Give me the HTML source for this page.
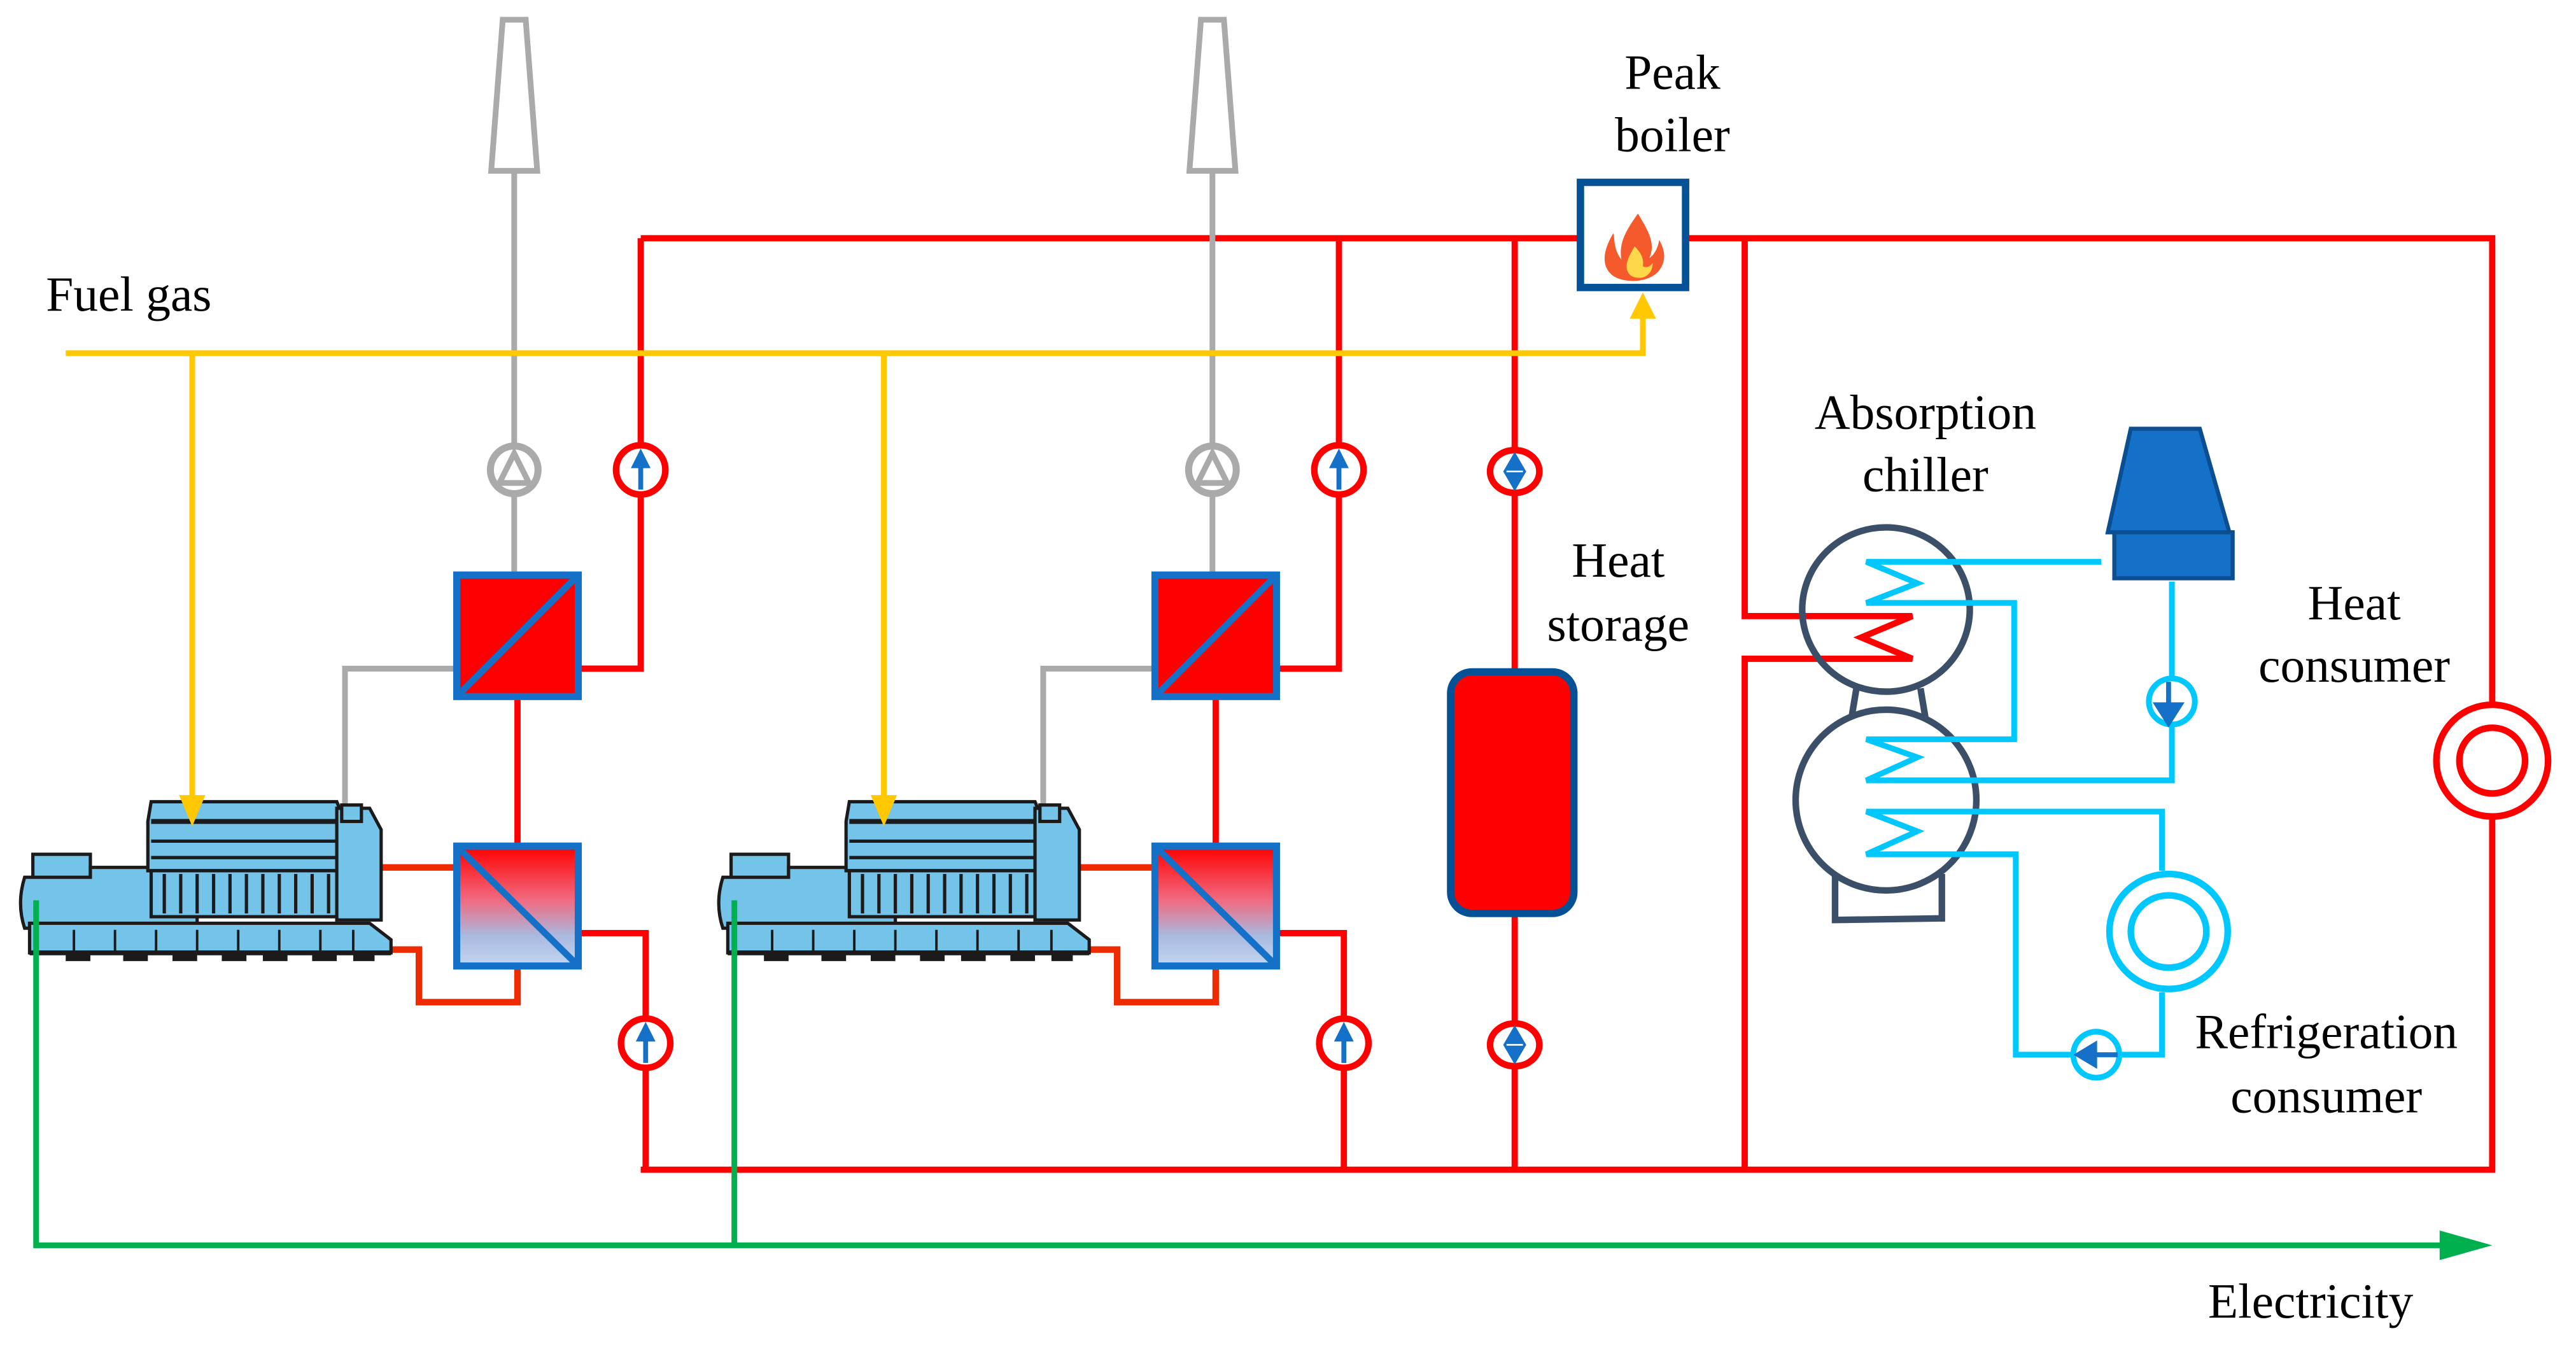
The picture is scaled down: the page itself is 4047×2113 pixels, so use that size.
<!DOCTYPE html>
<html><head><meta charset="utf-8"><style>
html,body{margin:0;padding:0;background:#fff;}
svg{display:block;}
</style></head><body>
<svg width="4047" height="2113" viewBox="0 0 1568 818.7" preserveAspectRatio="none" xmlns="http://www.w3.org/2000/svg" font-family="Liberation Serif, DejaVu Serif, serif">
<defs>
<linearGradient id="hg" x1="0" y1="0" x2="0" y2="1">
<stop offset="0" stop-color="#ff0000"/><stop offset="0.45" stop-color="#f06a80"/><stop offset="0.75" stop-color="#a9b9e0"/><stop offset="1" stop-color="#c2d6f0"/>
</linearGradient>
<g id="pumpR">
<circle r="15" fill="#fff" stroke="#ff0000" stroke-width="4"/>
<path d="M0,-13 L-6,-1 L-1.5,-1 L-1.5,12 L1.5,12 L1.5,-1 L6,-1 Z" fill="#1570c8"/>
</g>
<g id="pumpD">
<ellipse rx="15" ry="13" fill="#fff" stroke="#ff0000" stroke-width="4"/>
<path d="M0,-12 L-7,0 L0,12 L7,0 Z" fill="#1570c8"/>
<line x1="-5" y1="0" x2="5" y2="0" stroke="#fff" stroke-width="1"/>
</g>
<g id="engine" stroke="#1c1a1a" stroke-width="2">
<rect x="20" y="520" width="35" height="17" fill="#74c4ea"/>
<path d="M15,534 L55,534 L55,528 L95,528 L95,534 L120,534 L120,565 L15,565 Q10,550 15,534 Z" fill="#74c4ea"/>
<path d="M90,500 L92,488 L205,488 L210,500 L212,530 L90,530 Z" fill="#74c4ea"/>
<line x1="92" y1="500" x2="210" y2="500" stroke-width="3"/>
<line x1="92" y1="512" x2="210" y2="512" stroke-width="2"/>
<line x1="92" y1="522" x2="210" y2="522" stroke-width="2"/>
<rect x="92" y="530" width="118" height="28" fill="#74c4ea"/>
<path d="M100,532 V556 M110,532 V556 M120,532 V556 M130,532 V556 M140,532 V556 M150,532 V556 M160,532 V556 M170,532 V556 M180,532 V556 M190,532 V556 M200,532 V556" stroke-width="2"/>
<path d="M205,492 L225,492 L232,505 L232,560 L205,560 Z" fill="#74c4ea"/>
<rect x="208" y="490" width="12" height="10" fill="#74c4ea"/>
<path d="M18,562 L225,562 L238,572 L238,580 L18,580 Z" fill="#74c4ea"/>
<path d="M18,580 H238" stroke-width="3"/>
<path d="M45,566 V579 M70,566 V579 M95,566 V579 M120,566 V579 M145,566 V579 M170,566 V579 M195,566 V579 M215,566 V579" stroke-width="1.5"/>
<path d="M40,583 H55 M75,583 H90 M105,583 H120 M135,583 H150 M160,583 H175 M190,583 H205 M215,583 H228" stroke-width="4"/>
</g>
<g id="hxTop">
<rect x="278" y="350" width="74" height="74" fill="#ff0000" stroke="#1570c8" stroke-width="4.3"/>
<line x1="280" y1="422" x2="350" y2="352" stroke="#1570c8" stroke-width="4"/>
</g>
<g id="hxBot">
<rect x="278" y="515" width="74" height="73" fill="url(#hg)" stroke="#1570c8" stroke-width="4.3"/>
<line x1="280" y1="517" x2="350" y2="586" stroke="#1570c8" stroke-width="4"/>
</g>
<g id="stack">
<path d="M306,12 L320,12 L327,104 L299,104 Z" fill="#fff" stroke="#aaa" stroke-width="3.5"/>
</g>
<g id="unit">
<use href="#stack"/>
<line x1="313" y1="104" x2="313" y2="350" stroke="#aaa" stroke-width="3.5"/>
<circle cx="313" cy="286" r="14.5" fill="#fff" stroke="#aaa" stroke-width="4.3"/>
<path d="M313,276 L304,294 L322,294 Z" fill="#fff" stroke="#aaa" stroke-width="3.5"/>
<polyline points="210,490 210,407 278,407" fill="none" stroke="#aaa" stroke-width="3.5"/>
<polyline points="390,145 390,407 352,407" fill="none" stroke="#ff0000" stroke-width="3.8"/>
<line x1="315" y1="424" x2="315" y2="515" stroke="#ff0000" stroke-width="3.8"/>
<polyline points="352,568 393,568 393,712" fill="none" stroke="#ff0000" stroke-width="3.8"/>
<line x1="231" y1="528" x2="278" y2="528" stroke="#ee2a00" stroke-width="4"/>
<polyline points="237,578 255,578 255,610 315,610 315,588" fill="none" stroke="#ee2a00" stroke-width="4"/>
<use href="#hxTop"/><use href="#hxBot"/>
<use href="#engine"/>
<use href="#pumpR" x="390" y="286"/>
<use href="#pumpR" x="393" y="635"/>
</g>
</defs>

<polyline points="390,145 962,145" fill="none" stroke="#ff0000" stroke-width="3.8"/>
<polyline points="1028,145 1517,145 1517,712 390,712" fill="none" stroke="#ff0000" stroke-width="3.8"/>
<line x1="922" y1="145" x2="922" y2="712" stroke="#ff0000" stroke-width="3.8"/>
<polyline points="1062,145 1062,375 1164,375 1133,388 1164,401 1062,401 1062,712" fill="none" stroke="#ff0000" stroke-width="3.8"/>

<use href="#unit"/>
<use href="#unit" x="425"/>

<polyline points="40,215 1000,215 1000,192" fill="none" stroke="#ffc800" stroke-width="3.5"/>
<path d="M992,194 L1008,194 L1000,178 Z" fill="#ffc800"/>
<line x1="117" y1="215" x2="117" y2="488" stroke="#ffc800" stroke-width="3.5"/>
<path d="M109,484 L125,484 L117,503 Z" fill="#ffc800"/>
<line x1="538" y1="215" x2="538" y2="488" stroke="#ffc800" stroke-width="3.5"/>
<path d="M530,484 L546,484 L538,503 Z" fill="#ffc800"/>

<rect x="962" y="111" width="64" height="64" fill="#fff" stroke="#055196" stroke-width="4.5"/>
<path d="M997,130 C990,140 985,148 987,158 C982,152 983,145 982,142 C976,152 974,162 982,168 C990,173 1006,172 1011,163 C1015,156 1012,150 1010,146 C1009,152 1006,156 1004,157 C1008,148 1003,140 997,130 Z" fill="#f55a2c"/>
<path d="M995,150 C990,158 988,164 993,168 C999,171 1006,168 1006,160 C1004,163 1001,163 1000,162 C1001,157 998,153 995,150 Z" fill="#ffd84a"/>

<rect x="883" y="409" width="75" height="147" rx="13" fill="#ff0000" stroke="#055196" stroke-width="4.5"/>
<use href="#pumpD" x="922" y="287"/>
<use href="#pumpD" x="922" y="636"/>

<g fill="none" stroke="#3b5068" stroke-width="4">
<path d="M1130,419 L1127,437 M1169,419 L1172,437"/>
<polyline points="1117,532 1117,560 1182,559 1182,532"/>
<ellipse cx="1148" cy="371" rx="51" ry="50" fill="none"/>
<ellipse cx="1148" cy="487" rx="55" ry="55" fill="none"/>
</g>
<g fill="none" stroke="#00c8ff" stroke-width="3.5">
<polyline points="1279,342 1136,342 1167,355 1136,367 1226,367 1226,450 1136,450 1167,461 1136,475 1322,475 1322,442"/>
<line x1="1322" y1="412" x2="1322" y2="354"/>
<polyline points="1316,530 1316,494 1136,494 1167,506 1136,520 1227,520 1227,642 1262,642"/>
<polyline points="1290,642 1316,642 1316,604"/>
<circle cx="1322" cy="427" r="14"/>
<circle cx="1276" cy="642" r="14"/>
<ellipse cx="1320" cy="567" rx="36" ry="35" stroke-width="4"/>
<ellipse cx="1320" cy="567" rx="23" ry="22" stroke-width="4"/>
</g>
<path d="M1320,415 L1320,430 M1313,429 L1327,429 L1320,440 Z" stroke="#1570c8" stroke-width="3" fill="#1570c8"/>
<path d="M1289,642 L1274,642 M1275,636 L1275,648 L1265,642 Z" stroke="#1570c8" stroke-width="3" fill="#1570c8"/>
<path d="M1297,261 L1339,261 L1357,324 L1283,324 Z" fill="#1570c8" stroke="#0b4f90" stroke-width="2.5"/>
<rect x="1287" y="324" width="72" height="28" fill="#1570c8" stroke="#0b4f90" stroke-width="2.5"/>

<circle cx="1517" cy="463" r="34" fill="#fff" stroke="#ff0000" stroke-width="4"/>
<circle cx="1517" cy="463" r="20" fill="none" stroke="#ff0000" stroke-width="4"/>

<polyline points="22,548 22,758 1490,758" fill="none" stroke="#00b04f" stroke-width="3.5"/>
<line x1="447" y1="548" x2="447" y2="758" stroke="#00b04f" stroke-width="3.5"/>
<path d="M1485,749 L1517,758 L1485,767 Z" fill="#00b04f"/>

<g font-family="Liberation Serif, DejaVu Serif, serif" font-size="30" fill="#000">
<text x="28" y="189">Fuel gas</text>
<text x="1018" y="54" text-anchor="middle">Peak</text>
<text x="1018" y="92" text-anchor="middle">boiler</text>
<text x="985" y="351" text-anchor="middle">Heat</text>
<text x="985" y="390" text-anchor="middle">storage</text>
<text x="1172" y="261" text-anchor="middle">Absorption</text>
<text x="1172" y="299" text-anchor="middle">chiller</text>
<text x="1433" y="377" text-anchor="middle">Heat</text>
<text x="1433" y="415" text-anchor="middle">consumer</text>
<text x="1416" y="638" text-anchor="middle">Refrigeration</text>
<text x="1416" y="677" text-anchor="middle">consumer</text>
<text x="1344" y="802">Electricity</text>
</g>
</svg>
</body></html>
